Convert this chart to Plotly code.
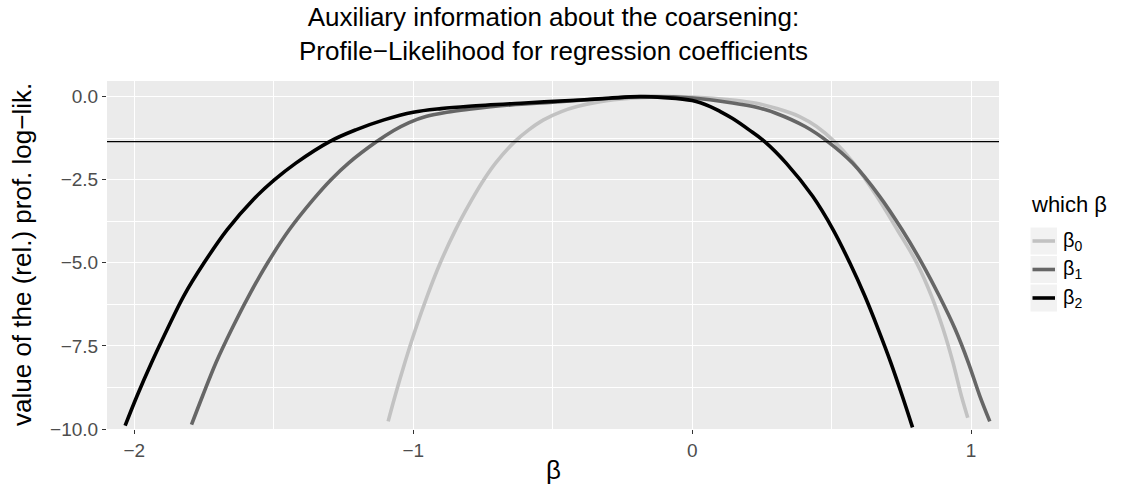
import plotly.graph_objects as go

# Relative profile log-likelihood for each regression coefficient
beta0_x = [-1.09, -1.065, -1.030, -0.992, -0.950, -0.903, -0.848, -0.79, -0.747, -0.705,
           -0.636, -0.586, -0.533, -0.469, -0.413, -0.33, -0.22, -0.08, 0.0, 0.145,
           0.23, 0.30, 0.385, 0.446, 0.51, 0.579, 0.662, 0.735, 0.805, 0.858,
           0.90, 0.935, 0.965, 0.988]
beta0_y = [-9.77, -9.0, -8.0, -7.0, -6.0, -5.0, -4.0, -3.1, -2.5, -2.0,
           -1.353, -1.0, -0.7, -0.45, -0.3, -0.15, -0.05, 0.0, -0.01, -0.1,
           -0.2, -0.35, -0.6, -0.9, -1.353, -2.0, -3.0, -4.0, -5.0, -6.0,
           -7.0, -8.0, -9.0, -9.66]

beta1_x = [-1.795, -1.755, -1.707, -1.651, -1.590, -1.522, -1.444, -1.359, -1.295, -1.232,
           -1.131, -1.07, -1.015, -0.955, -0.88, -0.8, -0.65, -0.5, -0.35, -0.17,
           0.0, 0.145, 0.23, 0.30, 0.405, 0.486, 0.575, 0.672, 0.752, 0.823,
           0.886, 0.943, 0.99, 1.031, 1.067]
beta1_y = [-9.87, -9.0, -8.0, -7.0, -6.0, -5.0, -4.0, -3.1, -2.5, -2.0,
           -1.353, -1.02, -0.78, -0.6, -0.47, -0.38, -0.25, -0.17, -0.08, 0.0,
           -0.04, -0.19, -0.32, -0.5, -0.9, -1.353, -2.0, -3.0, -4.0, -5.0,
           -6.0, -7.0, -8.0, -9.0, -9.77]

beta2_x = [-2.033, -1.99, -1.938, -1.882, -1.823, -1.75, -1.667, -1.574, -1.497, -1.421,
           -1.30, -1.206, -1.105, -1.0, -0.9, -0.8, -0.6, -0.4, -0.3, -0.19,
           -0.1, 0.0, 0.065, 0.101, 0.145, 0.204, 0.26, 0.337, 0.432, 0.505,
           0.565, 0.619, 0.667, 0.712, 0.753, 0.79]
beta2_y = [-9.9, -9.0, -8.0, -7.0, -6.0, -5.0, -4.0, -3.1, -2.5, -2.0,
           -1.353, -1.0, -0.7, -0.47, -0.36, -0.29, -0.19, -0.1, -0.05, 0.0,
           -0.03, -0.12, -0.3, -0.45, -0.66, -1.0, -1.353, -2.0, -3.0, -4.0,
           -5.0, -6.0, -7.0, -8.0, -9.0, -9.95]

# Cut-off: -qchisq(0.9, 1) / 2
cutoff = -1.3528

series_names = ["β<sub>0</sub>", "β<sub>1</sub>", "β<sub>2</sub>"]
series_colors = ["#C2C2C2", "#666666", "#000000"]
series_data = [(beta0_x, beta0_y), (beta1_x, beta1_y), (beta2_x, beta2_y)]

x_ticks = [-2, -1, 0, 1]
x_ticklabels = ["−2", "−1", "0", "1"]
y_ticks = [0, -2.5, -5, -7.5, -10]
y_ticklabels = ["0.0", "−2.5", "−5.0", "−7.5", "−10.0"]

title_text = ("Auxiliary information about the coarsening:<br>"
              "Profile−Likelihood for regression coefficients")

FONT = "Liberation Sans, Arial, sans-serif"
X_RANGE = [-2.098, 1.100]
PLOT_L, PLOT_R, PLOT_T, PLOT_B = 107, 999, 81, 429


def px_x(px):
    return (px - PLOT_L) / (PLOT_R - PLOT_L)


def px_y(py):
    return (PLOT_B - py) / (PLOT_B - PLOT_T)


fig = go.Figure()

for name, color, (xs, ys) in zip(series_names, series_colors, series_data):
    fig.add_trace(go.Scatter(
        x=xs, y=ys, mode="lines", name=name,
        line=dict(color=color, width=3.6, shape="spline", smoothing=1.0),
        showlegend=False,
    ))

fig.add_trace(go.Scatter(
    x=X_RANGE, y=[cutoff, cutoff], mode="lines",
    line=dict(color="#000000", width=1.3), showlegend=False,
))

fig.update_layout(
    width=1121, height=488,
    margin=dict(l=PLOT_L, r=1121 - PLOT_R, t=PLOT_T, b=488 - PLOT_B),
    paper_bgcolor="white",
    plot_bgcolor="#EBEBEB",
    font=dict(family=FONT, color="#4D4D4D"),
    xaxis=dict(
        range=X_RANGE, tickvals=x_ticks, ticktext=x_ticklabels,
        showgrid=True, gridcolor="white", gridwidth=1.4,
        minor=dict(dtick=0.5, showgrid=True, gridcolor="white", gridwidth=0.7),
        zeroline=False, ticks="outside", ticklen=4, tickcolor="#333333",
        tickfont=dict(size=19, color="#4D4D4D"), automargin=False,
        showline=False,
    ),
    yaxis=dict(
        range=[-10.0, 0.47], tickvals=y_ticks, ticktext=y_ticklabels,
        showgrid=True, gridcolor="white", gridwidth=1.4,
        minor=dict(dtick=1.25, showgrid=True, gridcolor="white", gridwidth=0.7),
        zeroline=False, ticks="outside", ticklen=4, tickcolor="#333333",
        tickfont=dict(size=19, color="#4D4D4D"), automargin=False,
        showline=False,
    ),
)

# Two-line title, centred over the panel
fig.add_annotation(text=title_text, xref="paper", yref="paper", x=0.5, y=px_y(34),
                   xanchor="center", yanchor="middle", showarrow=False,
                   font=dict(family=FONT, size=26, color="#000000"))

# Axis titles
fig.add_annotation(text="β", xref="paper", yref="paper", x=0.5, y=px_y(470),
                   xanchor="center", yanchor="middle", showarrow=False,
                   font=dict(family=FONT, size=26, color="#000000"))
fig.add_annotation(text="value of the (rel.) prof. log−lik.", xref="paper", yref="paper",
                   x=px_x(22), y=0.5, xanchor="center", yanchor="middle", textangle=-90,
                   showarrow=False, font=dict(family=FONT, size=26, color="#000000"))

# Legend drawn as keys with grey backgrounds
fig.add_annotation(text="which β", xref="paper", yref="paper",
                   x=px_x(1029), y=px_y(204), xanchor="left", yanchor="middle",
                   showarrow=False, font=dict(family=FONT, size=22, color="#000000"))
key_tops = [227, 255.5, 284]
for name, color, top in zip(series_names, series_colors, key_tops):
    y0 = px_y(top + 28)
    y1 = px_y(top)
    fig.add_shape(type="rect", xref="paper", yref="paper",
                  x0=px_x(1030), x1=px_x(1057.5), y0=y0, y1=y1,
                  fillcolor="#F2F2F2", line=dict(width=1, color="white"), layer="below")
    yc = (y0 + y1) / 2
    fig.add_shape(type="line", xref="paper", yref="paper",
                  x0=px_x(1032.5), x1=px_x(1055), y0=yc, y1=yc,
                  line=dict(color=color, width=3.6))
    fig.add_annotation(text=name, xref="paper", yref="paper",
                       x=px_x(1061), y=yc, xanchor="left", yanchor="middle",
                       showarrow=False, font=dict(family=FONT, size=20, color="#000000"))

fig.write_html("out.html")
